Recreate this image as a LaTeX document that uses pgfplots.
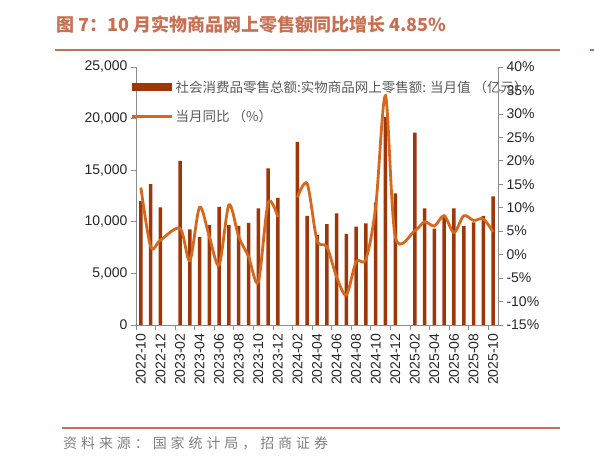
\documentclass[border=0pt]{standalone}
\usepackage{fontspec}
\setmainfont{Liberation Sans}
\newfontfamily\cjk{Noto Sans CJK SC}
\newfontfamily\cjksrc[LetterSpace=28]{Noto Sans CJK SC}
\usepackage{pgfplots}
\pgfplotsset{compat=1.18}
\definecolor{barc}{RGB}{158,54,8}
\definecolor{linec}{RGB}{214,104,30}
\definecolor{titlec}{RGB}{200,112,82}
\definecolor{axc}{RGB}{140,140,140}
\begin{document}
\begin{tikzpicture}
\useasboundingbox (0,0) rectangle (594pt,462pt);
\node[anchor=west, font=\cjk\bfseries\fontsize{18}{18}\selectfont, text=titlec, inner sep=0pt] at (56pt,437pt) {图 7：10 月实物商品网上零售额同比增长 4.85\%};
\draw[titlec, line width=1.5pt] (55pt,412pt) -- (560pt,412pt);
\draw[titlec, line width=1.5pt] (590pt,412pt) -- (594pt,412pt);
\draw[titlec, line width=1.5pt] (62pt,34pt) -- (560pt,34pt);
\node[anchor=west, font=\cjksrc\fontsize{14}{14}\selectfont, text=black!50, inner sep=0pt] at (63pt,19pt) {资料来源：国家统计局，招商证券};

\begin{axis}[
  at={(136pt,137pt)}, anchor=south west,
  width=362pt, height=258pt, scale only axis,
  xmin=-0.5, xmax=36.5, ymin=0, ymax=25000,
  scaled y ticks=false,
  axis x line*=bottom, axis y line*=left,
  axis line style={draw=axc, line width=0.8pt, -},
  tick align=outside,
  major tick length=5pt, minor tick length=5pt,
  tick style={draw=axc, line width=0.8pt},
  major x tick style={draw=none},
  xtick={0,2,...,36},
  xticklabels={2022-10,2022-12,2023-02,2023-04,2023-06,2023-08,2023-10,2023-12,2024-02,2024-04,2024-06,2024-08,2024-10,2024-12,2025-02,2025-04,2025-06,2025-08,2025-10},
  minor xtick={-0.5,1.5,...,35.5},
  xticklabel style={rotate=90, anchor=east, font=\fontsize{14}{14}\selectfont, text=black!85},
  ytick={0,5000,10000,15000,20000,25000},
  yticklabels={0,{5,000},{10,000},{15,000},{20,000},{25,000}},
  yticklabel style={font=\fontsize{14}{14}\selectfont, text=black!85},
  legend style={at={(-0.014,0.955)}, anchor=north west, draw=none, fill=none,
    font=\cjk\fontsize{13.5}{14}\selectfont, text=black!65, row sep=12pt,
    inner sep=0pt, nodes={inner sep=2pt}},
  legend cell align=left,
]
\addplot[ybar, bar width=3.5pt, bar shift=0pt, fill=barc, draw=none,
  legend image code/.code={\fill[barc] (0pt,-4pt) rectangle (40pt,4pt);}]
coordinates {
(0,12000) (1,13650) (2,11390) (4,15900) (5,9260) (6,8520) (7,9680) (8,11450)
(9,9680) (10,9610) (11,9900) (12,11290) (13,15170) (14,12320)
(16,17750) (17,10580) (18,8710) (19,9780) (20,10810) (21,8840) (22,9520)
(23,9840) (24,11870) (25,20170) (26,12750)
(28,18640) (29,11290) (30,9330) (31,10580) (32,11290) (33,9580) (34,9940)
(35,10580) (36,12460)
};
\addlegendentry{社会消费品零售总额:实物商品网上零售额: 当月值 （亿元）}
\addlegendimage{legend image code/.code={\draw[linec, line width=2.5pt] (0pt,0pt) -- (40pt,0pt);}}
\addlegendentry{当月同比 （\%）}
\end{axis}

\begin{axis}[
  at={(136pt,137pt)}, anchor=south west,
  width=362pt, height=258pt, scale only axis,
  xmin=-0.5, xmax=36.5, ymin=-15, ymax=40,
  axis y line*=right, axis x line=none,
  axis line style={draw=axc, line width=0.8pt, -},
  tick align=outside,
  major tick length=5pt,
  tick style={draw=axc, line width=0.8pt},
  ytick={-15,-10,-5,0,5,10,15,20,25,30,35,40},
  yticklabels={-15\%,-10\%,-5\%,0\%,5\%,10\%,15\%,20\%,25\%,30\%,35\%,40\%},
  yticklabel style={font=\fontsize{14}{14}\selectfont, text=black!85},
]
\addplot[linec, line width=2.8pt, smooth, mark=none] coordinates {
(0,14.3) (1,1.7) (2,3.1) (4,5.6) (5,-1.3) (6,10.1) (7,3.8) (8,-2.2)
(9,10.6) (10,3.8) (11,-0.4) (12,-5.8) (13,11.0) (14,8.0)
};
\addplot[linec, line width=2.8pt, smooth, mark=none] coordinates {
(16,12.2) (17,15.1) (18,3.1) (19,1.7) (20,-4.7) (21,-8.6) (22,-1.5)
(23,-1.0) (24,10.2) (25,33.9) (26,3.8)
(28,5.1) (29,7.0) (30,6.1) (31,8.3) (32,4.7) (33,8.3) (34,7.3) (35,7.6) (36,4.85)
};
\end{axis}
\end{tikzpicture}
\end{document}
